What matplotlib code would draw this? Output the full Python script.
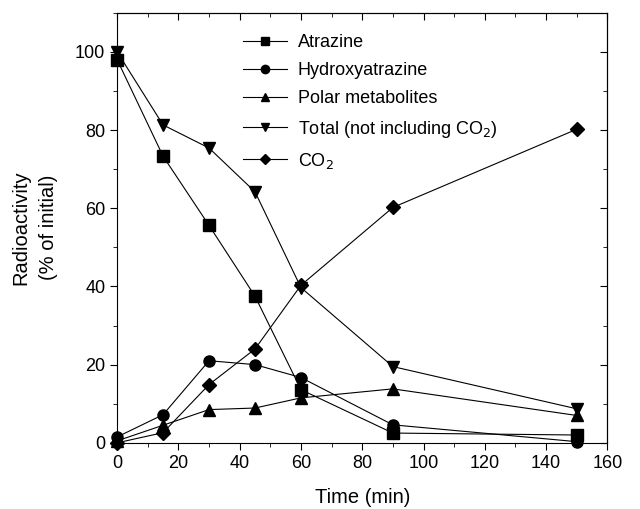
import matplotlib.pyplot as plt
from matplotlib.ticker import MultipleLocator

plt.rcParams['font.family'] = ['Liberation Sans', 'DejaVu Sans']

time = [0, 15, 30, 45, 60, 90, 150]
atrazine = [98, 73.3, 55.6, 37.5, 13.6, 2.5, 2.0]
hydroxy = [1.5, 7.2, 21.0, 20.0, 16.7, 4.6, 0.3]
polar = [0.5, 4.5, 8.5, 8.9, 11.5, 13.8, 7.0]
total = [100, 81.3, 75.4, 64.2, 39.7, 19.5, 8.7]
co2 = [0, 2.6, 14.9, 24.0, 40.3, 60.2, 80.2]

series = [
    (atrazine, 's', 'Atrazine'),
    (hydroxy, 'o', 'Hydroxyatrazine'),
    (polar, '^', 'Polar metabolites'),
    (total, 'v', 'Total (not including CO$_2$)'),
    (co2, 'D', 'CO$_2$'),
]

fig = plt.figure(figsize=(6.4, 5.09), dpi=100)
ax = fig.add_axes([0.183, 0.13, 0.766, 0.845])

for vals, m, lab in series:
    ms = 7 if m == 'D' else 8
    ax.plot(time, vals, color='black', lw=0.8, marker=m, markersize=ms,
            label=lab, clip_on=False)

ax.set_xlim(0, 160)
ax.set_ylim(0, 110)
ax.xaxis.set_major_locator(MultipleLocator(20))
ax.xaxis.set_minor_locator(MultipleLocator(10))
ax.yaxis.set_major_locator(MultipleLocator(20))
ax.yaxis.set_minor_locator(MultipleLocator(10))
ax.tick_params(which='both', direction='out', labelsize=13)
ax.tick_params(which='major', length=5)
ax.tick_params(which='minor', length=3)

# top and right ticks point inward, no labels
top = ax.secondary_xaxis('top')
top.xaxis.set_major_locator(MultipleLocator(20))
top.xaxis.set_minor_locator(MultipleLocator(10))
top.tick_params(axis='x', which='both', direction='in', labeltop=False, labelbottom=False)
top.tick_params(which='major', length=5)
top.tick_params(which='minor', length=3)

right = ax.secondary_yaxis('right')
right.yaxis.set_major_locator(MultipleLocator(20))
right.yaxis.set_minor_locator(MultipleLocator(10))
right.tick_params(axis='y', which='both', direction='in', labelright=False, labelleft=False)
right.tick_params(which='major', length=5)
right.tick_params(which='minor', length=3)

ax.set_xlabel('Time (min)', fontsize=14.5, labelpad=12)
ax.set_ylabel('Radioactivity\n(% of initial)', fontsize=14.5, labelpad=12,
              linespacing=1.6)

ax.legend(loc='upper left', bbox_to_anchor=(0.232, 0.98), frameon=False,
          fontsize=13, handlelength=2.4, handletextpad=0.6, labelspacing=0.62,
          markerscale=0.75, borderaxespad=0.3)

fig.savefig('out.png', dpi=100)
